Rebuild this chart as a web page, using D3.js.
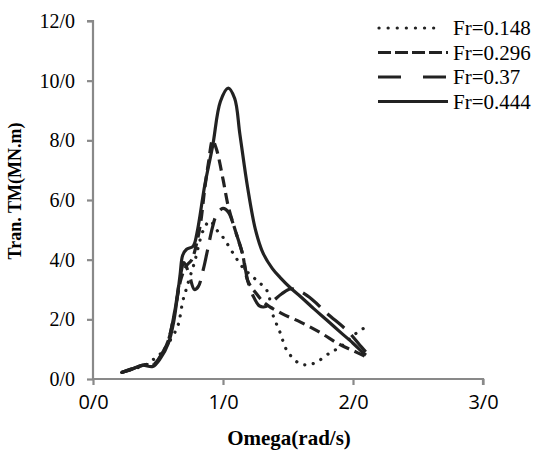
<!DOCTYPE html>
<html><head><meta charset="utf-8">
<script src="https://cdn.jsdelivr.net/npm/d3@7/dist/d3.min.js"></script>
<style>body{margin:0;background:#fff}svg{display:block}</style>
</head><body>
<script>
const xTicks = [0, 1, 2, 3];
const xTickLabels = ["0/0", "1/0", "2/0", "3/0"];
const yTicks = [0, 2, 4, 6, 8, 10, 12];
const yTickLabels = ["0/0", "2/0", "4/0", "6/0", "8/0", "10/0", "12/0"];
const seriesNames = ["Fr=0.148", "Fr=0.296", "Fr=0.37", "Fr=0.444"];

const fr148 = [[0.22,0.22],[0.3,0.33],[0.4,0.46],[0.46,0.64],[0.52,0.85],[0.58,1.2],[0.65,1.75],[0.67,2.1],[0.69,2.6],[0.71,2.9],[0.73,3.2],[0.78,3.9],[0.85,5.0],[0.9,5.3],[0.95,5.0],[1.0,4.75],[1.08,4.2],[1.15,3.75],[1.26,3.3],[1.34,2.95],[1.38,2.2],[1.44,1.55],[1.49,0.97],[1.58,0.54],[1.65,0.47],[1.72,0.57],[1.82,0.87],[1.9,1.07],[2.03,1.55],[2.09,1.72]];
const fr296 = [[0.22,0.22],[0.3,0.34],[0.4,0.48],[0.47,0.5],[0.53,0.85],[0.58,1.3],[0.63,2.3],[0.68,3.4],[0.72,3.8],[0.76,4.0],[0.8,4.6],[0.83,5.3],[0.86,6.4],[0.89,7.3],[0.92,8.0],[0.95,7.7],[1.0,6.7],[1.04,5.8],[1.1,4.9],[1.15,4.2],[1.19,3.3],[1.25,2.9],[1.32,2.55],[1.45,2.2],[1.6,1.9],[1.75,1.55],[1.9,1.15],[2.0,0.95],[2.1,0.75]];
const fr37 = [[0.22,0.22],[0.3,0.34],[0.4,0.47],[0.47,0.48],[0.53,0.85],[0.58,1.3],[0.63,2.3],[0.67,3.4],[0.7,3.9],[0.74,3.5],[0.78,3.0],[0.81,3.1],[0.85,3.7],[0.88,4.3],[0.92,5.1],[0.95,5.5],[1.0,5.72],[1.04,5.6],[1.1,4.9],[1.15,4.2],[1.19,3.3],[1.23,2.8],[1.28,2.45],[1.32,2.42],[1.38,2.6],[1.45,2.85],[1.52,3.02],[1.6,2.92],[1.69,2.65],[1.8,2.2],[1.96,1.6],[2.05,1.15],[2.1,0.9]];
const fr444 = [[0.22,0.22],[0.3,0.33],[0.38,0.46],[0.46,0.42],[0.52,0.7],[0.58,1.2],[0.62,1.9],[0.65,2.8],[0.67,3.5],[0.69,4.15],[0.72,4.35],[0.77,4.45],[0.8,4.9],[0.86,6.5],[0.92,7.8],[0.98,9.3],[1.04,9.75],[1.09,9.4],[1.13,8.2],[1.19,6.4],[1.25,5.0],[1.31,4.2],[1.38,3.7],[1.44,3.4],[1.52,3.05],[1.6,2.75],[1.7,2.35],[1.8,1.97],[1.9,1.58],[2.0,1.2],[2.08,0.87],[2.1,0.8]];

const allSeries = [fr148, fr296, fr37, fr444];
const dashes = ["0.1 8.6", "11 6", "22 10", null];
const caps = ["round", "butt", "butt", "butt"];
const legendDashes = ["0.1 9", "13 4", "23 22", null];

const W = 537, H = 450;
const svg = d3.select("body").append("svg").attr("width", W).attr("height", H);

const x = d3.scaleLinear().domain([0, 3]).range([93, 483]);
const y = d3.scaleLinear().domain([0, 12]).range([379, 21]);

const axisColor = "#898989";

// Y axis
const yAxis = d3.axisLeft(y).tickValues(yTicks).tickSize(6).tickPadding(12)
  .tickFormat((d, i) => yTickLabels[i]);
const gy = svg.append("g").attr("transform", `translate(${x(0)},0)`).call(yAxis);
gy.select(".domain").attr("stroke", axisColor).attr("stroke-width", 2.2).attr("d", `M-6,${y(12)}H0V${y(0)}`);
gy.selectAll(".tick line").attr("stroke", axisColor).attr("stroke-width", 2.2);
gy.selectAll(".tick text").attr("fill", "#000").style("font-family", "'Liberation Serif', 'Times New Roman', serif").style("font-size", "20px");

// X axis
const xAxis = d3.axisBottom(x).tickValues(xTicks).tickSize(6).tickPadding(10)
  .tickFormat((d, i) => xTickLabels[i]);
const gx = svg.append("g").attr("transform", `translate(0,${y(0)})`).call(xAxis);
gx.select(".domain").attr("stroke", axisColor).attr("stroke-width", 2.2).attr("d", `M${x(0)},0H${x(3)}V6`);
gx.selectAll(".tick line").attr("stroke", axisColor).attr("stroke-width", 2.2);
gx.selectAll(".tick text").attr("fill", "#000").style("font-family", "'Open Sans', sans-serif").style("font-size", "20px");

// Axis titles
svg.append("text").attr("x", 289).attr("y", 445).attr("text-anchor", "middle")
  .style("font-family", "'Liberation Serif', serif").style("font-weight", "bold").style("font-size", "21px")
  .text("Omega(rad/s)");
svg.append("text").attr("transform", "translate(21,191) rotate(-90)").attr("text-anchor", "middle")
  .style("font-family", "'Liberation Serif', serif").style("font-weight", "bold").style("font-size", "18px")
  .text("Tran. TM(MN.m)");

// Lines
const line = d3.line().x(d => x(d[0])).y(d => y(d[1])).curve(d3.curveCatmullRom.alpha(0.5));
allSeries.forEach((s, i) => {
  svg.append("path").datum(s).attr("d", line)
    .attr("fill", "none").attr("stroke", "#222").attr("stroke-width", i === 0 ? 3.2 : 3.2)
    .attr("stroke-linecap", caps[i]).attr("stroke-linejoin", "round")
    .attr("stroke-dasharray", dashes[i]);
});

// Legend
const legY = [28, 52.5, 77, 101.5];
seriesNames.forEach((n, i) => {
  svg.append("line").attr("x1", i === 0 ? 379 : 378).attr("x2", i === 0 ? 442 : 448)
    .attr("y1", legY[i]).attr("y2", legY[i])
    .attr("stroke", "#222").attr("stroke-width", 3.2)
    .attr("stroke-linecap", caps[i]).attr("stroke-dasharray", legendDashes[i]);
  svg.append("text").attr("x", 453).attr("y", legY[i] + 7)
    .style("font-family", "'Liberation Serif', serif").style("font-size", "21px")
    .text(n);
});
</script>
</body></html>
